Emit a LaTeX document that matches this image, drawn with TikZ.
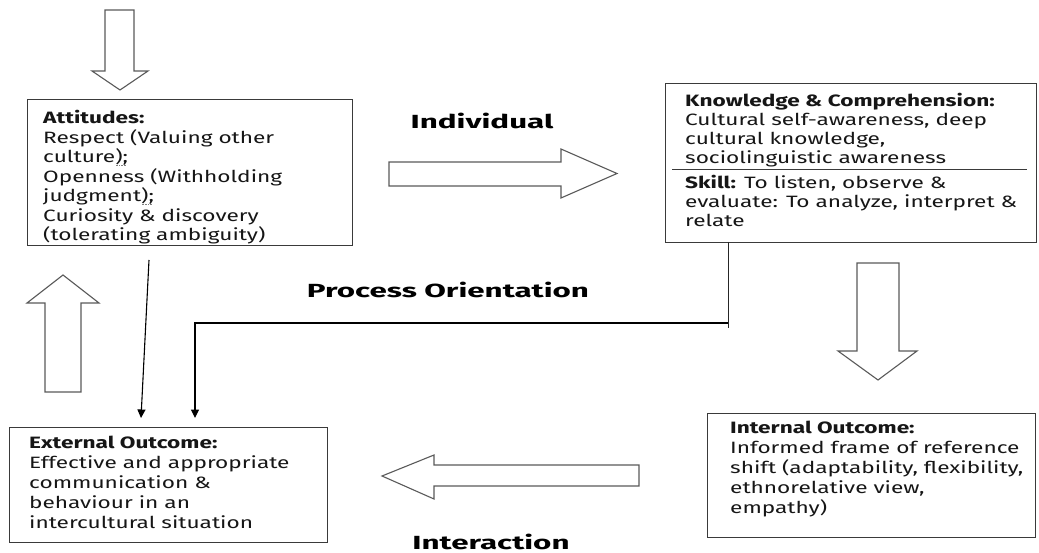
\documentclass[tikz,border=0pt]{standalone}
\usepackage{fontspec}
\setmainfont[FakeStretch=1.38]{Fira Sans}
\newfontfamily\lblfont[FakeStretch=1.65]{Fira Sans}
\usetikzlibrary{arrows.meta}
\definecolor{boxline}{HTML}{3A3A3A}
\definecolor{arrline}{HTML}{5A5A5A}
\definecolor{txt}{HTML}{161616}
\newcommand\mydotul[1]{\setbox0\hbox{#1}\rlap{\copy0}\raisebox{-3pt}{\hbox to \wd0{\color{gray}\leaders\hbox to 1.6pt{\hss\rule{0.8pt}{0.8pt}\hss}\hfill}}}
\tikzset{
  box/.style={draw=boxline, line width=1.1pt, rectangle, inner sep=0pt, anchor=north west},
  boxtext/.style={anchor=base west, align=left, inner sep=0pt, text=txt, font=\fontsize{16.4}{19.5}\selectfont},
  lbl/.style={inner sep=0pt, text=black, font=\lblfont\bfseries\fontsize{19}{22}\selectfont},
  blockarrow/.style={draw=arrline, fill=white, line width=1.1pt, line join=miter},
  conn/.style={draw=black, line width=1.1pt, -{Triangle[width=8pt,length=8.5pt]}},
  plainline/.style={draw=black!85, line width=1pt},
  divider/.style={draw=boxline, line width=1pt}
}
\begin{document}
\begin{tikzpicture}[x=1pt,y=-1pt]
\useasboundingbox (0,0) rectangle (1039,553);
\fill[white] (0,0) rectangle (1039,553);

% boxes
\node[box, minimum width=325pt, minimum height=146pt] (att) at (27,99) {};
\node[box, minimum width=371pt, minimum height=159pt] (know) at (665,83) {};
\node[box, minimum width=318pt, minimum height=115pt] (ext) at (9,427) {};
\node[box, minimum width=328pt, minimum height=124pt] (int) at (707,413) {};

% box texts (anchored at the baseline of the last line)
\node[boxtext] (atttext) at (43,241) {\textbf{Attitudes:}\\Respect (Valuing other\\culture\mydotul{);}\\Openness (Withholding\\judgment\mydotul{);}\\Curiosity \& discovery\\(tolerating ambiguity)};
\node[boxtext, font=\fontsize{16.4}{19}\selectfont] (knowtext) at (685,164) {\textbf{Knowledge \& Comprehension:}\\Cultural self-awareness, deep\\cultural knowledge,\\sociolinguistic awareness};
\coordinate (d1) at (672,170);
\coordinate (d2) at (1027,170);
\draw[divider] (d1) -- (d2);
\node[boxtext, font=\fontsize{16.4}{19}\selectfont] (skilltext) at (685,227) {\textbf{Skill:} To listen, observe \&\\evaluate: To analyze, interpret \&\\relate};
\node[boxtext, font=\fontsize{16.4}{20}\selectfont] (exttext) at (29,528) {\textbf{External Outcome:}\\Effective and appropriate\\communication \&\\behaviour in an\\intercultural situation};
\node[boxtext, font=\fontsize{16.4}{20}\selectfont] (inttext) at (730,513) {\textbf{Internal Outcome:}\\Informed frame of reference\\shift (adaptability, flexibility,\\ethnorelative view,\\empathy)};

% labels
\node[lbl] (lind) at (482,121) {Individual};
\node[lbl] (lproc) at (448,290) {Process Orientation};
\node[lbl] (linter) at (491,542) {Interaction};

% block arrows
\draw[blockarrow] (105,10) -- (134,10) -- (134,71) -- (148,71) -- (120,90) -- (92,71) -- (105,71) -- cycle;
\draw[blockarrow] (45,392) -- (81,392) -- (81,303) -- (99,303) -- (63,275) -- (27,303) -- (45,303) -- cycle;
\draw[blockarrow] (857,263) -- (899,263) -- (899,351) -- (917,351) -- (878,380) -- (838,351) -- (857,351) -- cycle;
\draw[blockarrow] (389,162) -- (561,162) -- (561,149) -- (617,173.5) -- (561,198) -- (561,186) -- (389,186) -- cycle;
\draw[blockarrow] (639,465) -- (434,465) -- (434,455) -- (382,476) -- (434,499) -- (434,486) -- (639,486) -- cycle;

% connectors
\coordinate (a1) at (149,260);
\coordinate (a2) at (141,418);
\draw[conn] (a1) -- (a2);
\coordinate (k0) at (728,242);
\coordinate (k1) at (728,328);
\draw[plainline] (k0) -- (k1);
\coordinate (h1) at (728,323);
\coordinate (h0) at (195,323);
\coordinate (e1) at (195,418);
\draw[conn] (h1) -- (h0) -- (e1);
\end{tikzpicture}
\end{document}
